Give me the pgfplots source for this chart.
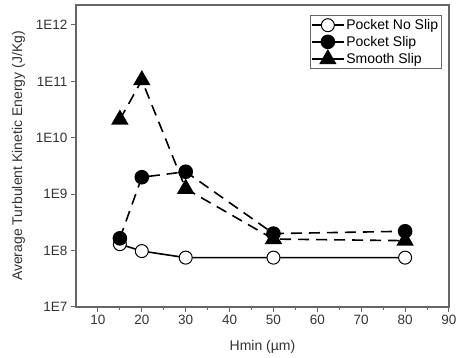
\documentclass[border=0pt]{standalone}
\usepackage{pgfplots}
\pgfplotsset{compat=1.18}
\usepackage{fontspec}
\setmainfont{Liberation Sans}
\begin{document}
\begin{tikzpicture}
\begin{semilogyaxis}[
  at={(0pt,0pt)}, anchor=south west,
  scale only axis, width=373pt, height=302pt,
  xmin=5, xmax=90, ymin=1e7, ymax=2.26e12,
  xtick={10,20,...,90}, minor xtick={15,25,...,85},
  ytick={1e7,1e8,1e9,1e10,1e11,1e12},
  yticklabels={1E7,1E8,1E9,1E10,1E11,1E12},
  yminorticks=false,
  xtick pos=left, ytick pos=left, tick align=outside,
  major tick length=5pt, minor tick length=3pt,
  axis line style={draw=black!60, line width=1.2pt},
  every tick/.style={black!60, line width=1pt},
  tick label style={font=\fontsize{13.5}{15}\selectfont, text=black!80},
  /pgf/number format/assume math mode=true,
  xlabel={Hmin (µm)}, ylabel={Average Turbulent Kinetic Energy (J/Kg)},
  label style={font=\fontsize{14}{16}\selectfont, text=black!80},
  xlabel style={yshift=-8pt}, ylabel style={yshift=4pt},
  legend style={at={(1,1)}, anchor=north east, xshift=-7pt, yshift=-10.5pt,
    draw=black!60, line width=0.8pt, font=\fontsize{14}{16}\selectfont,
    row sep=1pt, inner sep=1.5pt},
  legend cell align=left,
  legend image code/.code={\draw[#1, solid, line width=1.5pt] (0cm,0cm) -- (0.55cm,0cm) -- (1.1cm,0cm); \path[#1, solid, only marks] plot coordinates {(0.55cm,0cm)};},
]
\addplot[black, line width=1.6pt, mark=*, mark size=6.5pt, mark options={fill=white, line width=1pt, solid}]
  coordinates {(15,1.3e8) (20,9.8e7) (30,7.5e7) (50,7.5e7) (80,7.5e7)};
\addlegendentry{Pocket No Slip}
\addplot[black, line width=1.6pt, dash pattern=on 11pt off 7pt, mark=*, mark size=6.5pt, mark options={fill=black, solid}]
  coordinates {(15,1.65e8) (20,2.0e9) (30,2.5e9) (50,2.0e8) (80,2.2e8)};
\addlegendentry{Pocket Slip}
\addplot[black, line width=1.6pt, dash pattern=on 11pt off 7pt, mark=triangle*, mark size=8.5pt, mark options={fill=black, solid}]
  coordinates {(15,2.1e10) (20,1.05e11) (30,1.25e9) (50,1.6e8) (80,1.5e8)};
\addlegendentry{Smooth Slip}
\end{semilogyaxis}
\pgfresetboundingbox
\path (-76pt,-51pt) rectangle (380pt,307pt);
\end{tikzpicture}
\end{document}
